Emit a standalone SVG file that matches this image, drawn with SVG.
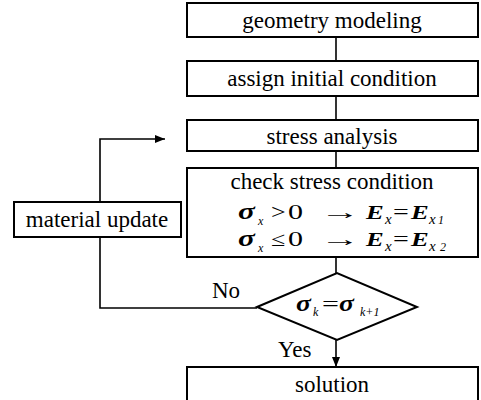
<svg xmlns="http://www.w3.org/2000/svg" width="481" height="400" viewBox="0 0 481 400">
<defs>
<style>
.box{fill:#fff;stroke:#000;stroke-width:2}
.ln{fill:none;stroke:#000;stroke-width:1.6}
text{font-family:"Liberation Serif","Times New Roman",serif;font-size:23px;fill:#000}
.c{text-anchor:middle}
.sg{font-size:24px;font-style:italic;font-weight:bold}
.e{font-size:19px;font-style:italic;font-weight:bold}
.n{font-size:20px}
.s{font-size:12px;font-style:italic}
.s2{font-size:15px;font-style:italic}
</style>
<marker id="ah" viewBox="0 0 10 10" refX="10" refY="5" markerWidth="10" markerHeight="10" markerUnits="userSpaceOnUse" orient="auto">
<path d="M0,1 L10,5 L0,9 Z" fill="#000"/>
</marker>
</defs>
<rect width="481" height="400" fill="#fff"/>
<g id="connectors">
<line class="ln" x1="336" y1="37" x2="336" y2="61"/>
<line class="ln" x1="336" y1="96" x2="336" y2="120"/>
<line class="ln" x1="336" y1="151" x2="336" y2="168"/>
<line class="ln" x1="336" y1="257" x2="336" y2="273"/>
<polyline class="ln" points="257,308 100,308 100,237"/>
<polyline class="ln" points="100,202 100,139 165,139" marker-end="url(#ah)"/>
<line class="ln" x1="336" y1="340" x2="336" y2="367" marker-end="url(#ah)"/>
<text x="212" y="298">No</text>
<text x="278" y="357">Yes</text>
</g>
<g id="geometry">
<rect class="box" x="187" y="3" width="291" height="34"/>
<text class="c" x="332" y="28">geometry modeling</text>
</g>
<g id="assign">
<rect class="box" x="187" y="61" width="291" height="35"/>
<text class="c" x="332" y="86">assign initial condition</text>
</g>
<g id="stress">
<rect class="box" x="187" y="120" width="291" height="31"/>
<text class="c" x="332" y="144">stress analysis</text>
</g>
<g id="check">
<rect class="box" x="187" y="168" width="291" height="89"/>
<text class="c" x="332" y="189">check stress condition</text>
<text class="sg" transform="translate(238,219) scale(1.3,1)">σ</text>
<text class="s" x="258" y="225">x</text>
<text class="n" transform="translate(271,219) scale(1.3,1)">&gt;</text>
<text class="n" transform="translate(288,219) scale(1.5,1)">0</text>
<text class="n" transform="translate(320,219) scale(2,1)">→</text>
<text class="e" transform="translate(366,219) scale(1.4,1)">E</text>
<text class="s2" x="385" y="224">x</text>
<text class="n" transform="translate(393,219) scale(1.4,1)">=</text>
<text class="e" transform="translate(411,219) scale(1.4,1)">E</text>
<text class="s2" x="429" y="224">x</text>
<text class="s" x="438" y="224">1</text>
<text class="sg" transform="translate(238,246) scale(1.3,1)">σ</text>
<text class="s" x="258" y="252">x</text>
<text class="n" transform="translate(271,246) scale(1.3,1)">≤</text>
<text class="n" transform="translate(288,246) scale(1.5,1)">0</text>
<text class="n" transform="translate(320,246) scale(2,1)">→</text>
<text class="e" transform="translate(366,246) scale(1.4,1)">E</text>
<text class="s2" x="385" y="251">x</text>
<text class="n" transform="translate(393,246) scale(1.4,1)">=</text>
<text class="e" transform="translate(411,246) scale(1.4,1)">E</text>
<text class="s2" x="429" y="251">x</text>
<text class="s" x="440" y="251">2</text>
</g>
<g id="material">
<rect class="box" x="14" y="202" width="167" height="35"/>
<text class="c" x="97" y="227">material update</text>
</g>
<g id="decision">
<polygon class="box" points="257,307 337,273 417,307 337,340"/>
<text class="sg" transform="translate(296,311) scale(1.15,1)">σ</text>
<text class="s" x="313" y="316">k</text>
<text class="n" transform="translate(322,311) scale(1.5,1)">=</text>
<text class="sg" transform="translate(339,311) scale(1.15,1)">σ</text>
<text class="s" x="360" y="316" font-size="10px">k+1</text>
</g>
<g id="solution">
<rect class="box" x="187" y="367" width="291" height="40"/>
<text class="c" x="332" y="392">solution</text>
</g>
</svg>
